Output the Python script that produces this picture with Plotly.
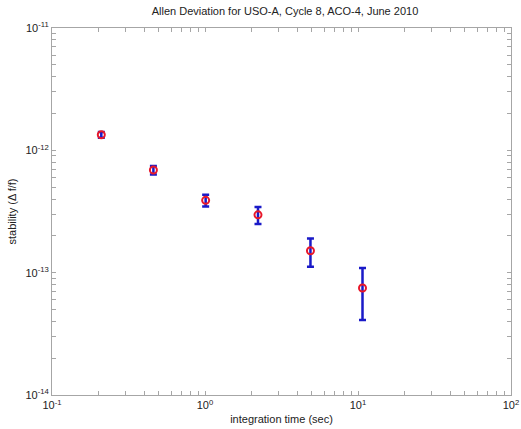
import plotly.graph_objects as go

# data
tau = [0.21, 0.46, 1.01, 2.22, 4.89, 10.7]
adev = [1.34e-12, 6.9e-13, 3.9e-13, 2.97e-13, 1.51e-13, 7.5e-14]
adev_err = [0.7e-13, 0.54e-13, 0.43e-13, 0.47e-13, 0.39e-13, 3.4e-14]

x_decades = [-1, 0, 1, 2]
y_decades = [-14, -13, -12, -11]
x_ticktext = ["10<sup>-1</sup>", "10<sup>0</sup>", "10<sup>1</sup>", "10<sup>2</sup>"]
y_ticktext = ["10<sup>-14</sup>", "10<sup>-13</sup>", "10<sup>-12</sup>", "10<sup>-11</sup>"]
minor_digits = [2, 3, 4, 5, 6, 7, 8, 9]

font = "Liberation Sans, Arial, sans-serif"
axcol = "#a6a6a6"


def ticks(decades, labels):
    vals = [10.0 ** d for d in decades]
    text = list(labels)
    for d in decades[:-1]:
        for m in minor_digits:
            vals.append(m * 10.0 ** d)
            text.append("")
    return vals, text


xv, xt = ticks(x_decades, x_ticktext)
yv, yt = ticks(y_decades, y_ticktext)

fig = go.Figure()
fig.add_trace(go.Scatter(
    x=tau, y=adev, mode="markers",
    marker=dict(symbol="circle-open", size=7, color="#e8182a", line=dict(width=2, color="#e8182a")),
    error_y=dict(type="data", array=adev_err, visible=True, color="#1a1ac8", thickness=2.5, width=3.5),
    showlegend=False, hoverinfo="skip",
))

common = dict(
    showline=True, linecolor=axcol, linewidth=1, mirror="ticks",
    ticks="inside", ticklen=4, tickcolor=axcol,
    showgrid=False, zeroline=False,
    ticklabeloverflow="allow",
    tickfont=dict(family=font, size=11, color="#222"),
)

fig.update_xaxes(type="log", range=[x_decades[0], x_decades[-1]], tickmode="array", tickvals=xv, ticktext=xt,
                 title=dict(text="integration time (sec)", font=dict(family=font, size=11, color="#222"), standoff=5),
                 **common)
fig.update_yaxes(type="log", range=[y_decades[0], y_decades[-1]], tickmode="array", tickvals=yv, ticktext=yt,
                 title=dict(text="stability (Δ f/f)", font=dict(family=font, size=11, color="#222"), standoff=6),
                 **common)

fig.update_layout(
    width=521, height=429,
    margin=dict(l=52, r=2, t=28, b=34),
    paper_bgcolor="white", plot_bgcolor="white",
    title=dict(text="Allen Deviation for USO-A, Cycle 8, ACO-4, June 2010",
               font=dict(family=font, size=11, color="#222"),
               x=0.547, xanchor="center", y=0.975, yanchor="middle"),
)

fig.write_html("out.html", config={"displayModeBar": False},
               post_script="document.body.style.margin='0';document.body.style.overflow='hidden';")
